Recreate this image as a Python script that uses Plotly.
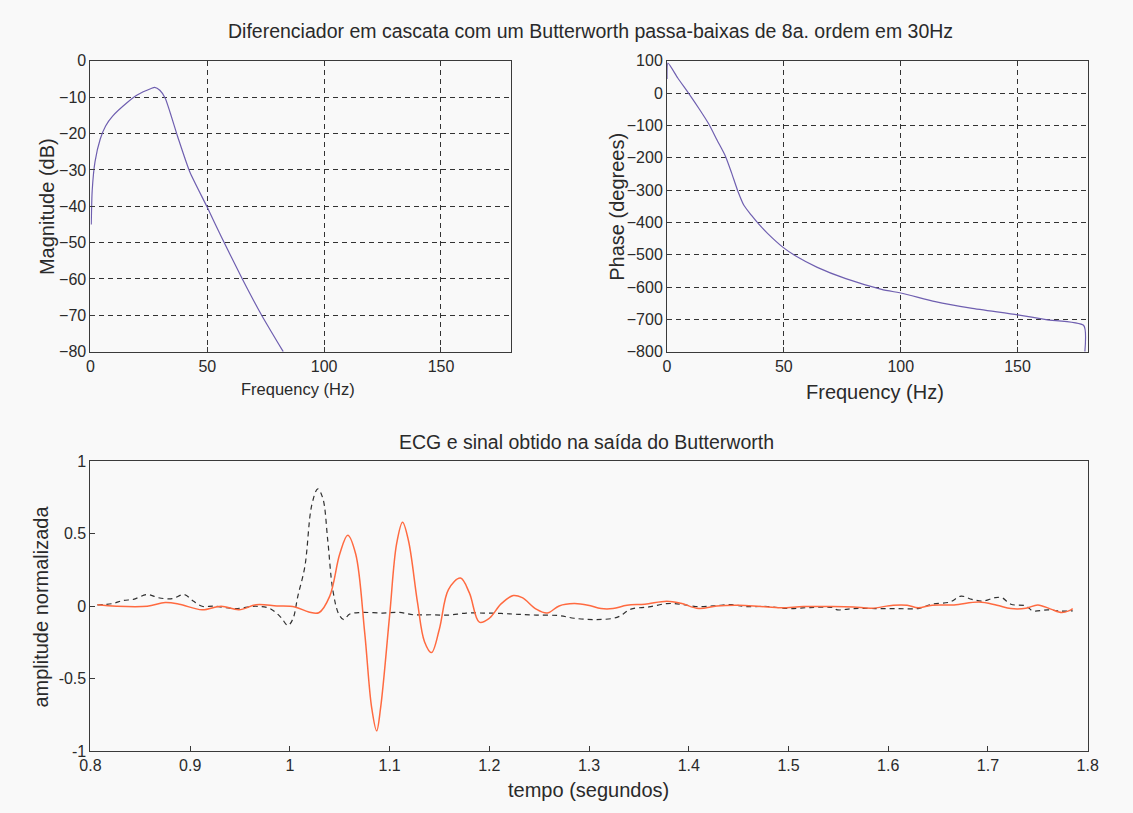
import plotly.graph_objects as go

# ---------------- data ----------------
mag_freq = [0.35, 0.75, 1.95, 4.2, 6.5, 9.5, 15.5, 20.0, 26.0, 27.5, 29.7, 32.0,
            37.2, 42.5, 50.0, 56.0, 65.0, 73.2, 82.5]
mag_db = [-45.0, -35.8, -27.8, -21.5, -17.9, -15.2, -11.6, -9.4, -7.6, -7.3, -8.1, -10.3,
          -20.6, -30.5, -40.3, -48.4, -60.0, -69.9, -80.0]

ph_freq = [0.0, 0.4, 4.6, 9.5, 13.8, 18.0, 21.4, 25.0, 27.6, 30.2, 32.9, 36.0, 39.0,
           42.9, 49.8, 55.1, 64.3, 76.5, 91.8, 101.0, 114.8, 130.0, 150.0, 162.2,
           178.3, 178.8]
ph_deg = [44, 93, 47, -3, -49, -97, -145, -195, -246, -301, -347, -377, -403,
          -433, -478, -504, -539, -574, -607, -620, -645, -665, -686, -701,
          -719, -800]

ecg_t = [0.807, 0.822, 0.833, 0.843, 0.857, 0.868, 0.882, 0.894, 0.903, 0.912, 0.924,
         0.945, 0.966, 0.980, 0.991, 0.998, 1.003, 1.008, 1.015, 1.022, 1.028, 1.033,
         1.038, 1.043, 1.049, 1.054, 1.060, 1.071, 1.093, 1.110, 1.124, 1.142, 1.159,
         1.177, 1.194, 1.212, 1.229, 1.247, 1.270, 1.285, 1.306, 1.328, 1.342, 1.360,
         1.378, 1.392, 1.407, 1.425, 1.443, 1.457, 1.479, 1.500, 1.522, 1.544, 1.549,
         1.565, 1.587, 1.608, 1.630, 1.644, 1.662, 1.673, 1.684, 1.695, 1.707, 1.714,
         1.723, 1.738, 1.745, 1.760, 1.774, 1.785]
ecg_amp = [0.010, 0.018, 0.040, 0.047, 0.081, 0.059, 0.052, 0.081, 0.036, 0.000, 0.000,
           -0.016, 0.000, -0.016, -0.077, -0.133, -0.088, 0.070, 0.273, 0.700, 0.810, 0.746,
           0.453, 0.115, -0.054, -0.092, -0.054, -0.043, -0.047, -0.043, -0.059, -0.059, -0.061,
           -0.047, -0.047, -0.050, -0.056, -0.061, -0.065, -0.083, -0.092, -0.077, -0.020, -0.005,
           0.018, 0.014, -0.002, 0.002, 0.011, -0.002, -0.002, -0.016, -0.009, -0.009, -0.025,
           -0.016, -0.016, -0.016, -0.016, 0.014, 0.029, 0.070, 0.047, 0.036, 0.059, 0.059,
           0.014, 0.002, -0.032, -0.025, -0.034, -0.032]

out_t = [0.807, 0.826, 0.857, 0.875, 0.889, 0.912, 0.931, 0.949, 0.966, 0.987, 1.005,
         1.019, 1.029, 1.040, 1.050, 1.058, 1.066, 1.075, 1.082, 1.087, 1.091, 1.100,
         1.107, 1.113, 1.119, 1.128, 1.135, 1.142, 1.150, 1.159, 1.171, 1.180, 1.190,
         1.200, 1.212, 1.224, 1.233, 1.247, 1.258, 1.270, 1.285, 1.299, 1.312, 1.324,
         1.338, 1.356, 1.378, 1.392, 1.410, 1.428, 1.450, 1.472, 1.493, 1.515, 1.540,
         1.565, 1.583, 1.605, 1.619, 1.630, 1.644, 1.666, 1.691, 1.709, 1.723, 1.738,
         1.750, 1.763, 1.774, 1.781, 1.785]
out_amp = [0.010, 0.000, 0.000, 0.025, 0.014, -0.025, 0.000, -0.025, 0.010, 0.002, -0.005,
           -0.040, -0.045, 0.070, 0.360, 0.490, 0.360, -0.180, -0.700, -0.860, -0.700, -0.065,
           0.430, 0.580, 0.450, 0.025, -0.245, -0.320, -0.155, 0.115, 0.194, 0.092, -0.110,
           -0.083, 0.018, 0.074, 0.059, -0.020, -0.047, 0.002, 0.018, 0.007, -0.016, -0.016,
           0.007, 0.014, 0.034, 0.020, -0.016, 0.002, 0.007, -0.002, -0.011, -0.002, -0.002,
           -0.005, -0.014, 0.007, 0.007, -0.011, 0.007, 0.009, 0.029, 0.007, -0.016, -0.014,
           0.009, -0.020, -0.043, -0.032, -0.016]

mag_ticks = [0, -10, -20, -30, -40, -50, -60, -70, -80]
ph_ticks = [100, 0, -100, -200, -300, -400, -500, -600, -700, -800]
freq_ticks = [0, 50, 100, 150]
t_ticks = [0.8, 0.9, 1.0, 1.1, 1.2, 1.3, 1.4, 1.5, 1.6, 1.7, 1.8]
t_labels = ["0.8", "0.9", "1", "1.1", "1.2", "1.3", "1.4", "1.5", "1.6", "1.7", "1.8"]
a_ticks = [-1, -0.5, 0, 0.5, 1]
a_labels = ["-1", "-0.5", "0", "0.5", "1"]

# ---------------- figure ----------------
W, H = 1133, 813
FONT = "Liberation Sans, Arial, sans-serif"
TXT = "#2a2a2a"
FRAME = "#3a3a3a"
BG = "#f9f9f9"

fig = go.Figure()
fig.add_trace(go.Scatter(x=mag_freq, y=mag_db, mode="lines", xaxis="x", yaxis="y",
                         line=dict(color="#6f5fb0", width=1.2, shape="spline", smoothing=0.6),
                         showlegend=False))
fig.add_trace(go.Scatter(x=ph_freq, y=ph_deg, mode="lines", xaxis="x2", yaxis="y2",
                         line=dict(color="#6f5fb0", width=1.2, shape="spline", smoothing=0.6),
                         showlegend=False))
fig.add_trace(go.Scatter(x=ecg_t, y=ecg_amp, mode="lines", xaxis="x3", yaxis="y3",
                         line=dict(color="#303030", width=1.2, dash="5px,4px", shape="spline"),
                         showlegend=False))
fig.add_trace(go.Scatter(x=out_t, y=out_amp, mode="lines", xaxis="x3", yaxis="y3",
                         line=dict(color="#ff6a40", width=1.5, shape="spline"),
                         showlegend=False))

def px_x(v):
    return v / W

def px_y(v):
    return 1 - v / H

tick_font = dict(family=FONT, size=16, color=TXT)
common = dict(showline=True, linecolor=FRAME, linewidth=1, mirror=True,
              ticks="inside", ticklen=5, tickcolor=FRAME, tickfont=tick_font,
              zeroline=False, fixedrange=True)
grid = dict(showgrid=True, gridcolor="#333333", gridwidth=1, griddash="5px,4px")

fig.update_layout(
    width=W, height=H,
    margin=dict(l=0, r=0, t=0, b=0),
    paper_bgcolor=BG, plot_bgcolor=BG,
    xaxis=dict(domain=[px_x(81), px_x(510)], range=[0, 180], tickvals=freq_ticks,
               anchor="y", **common, **grid),
    yaxis=dict(domain=[px_y(351), px_y(54)], range=[-80, 0], tickvals=mag_ticks,
               anchor="x", **common, **grid),
    xaxis2=dict(domain=[px_x(669), px_x(1098)], range=[0, 180], tickvals=freq_ticks,
                anchor="y2", **common, **grid),
    yaxis2=dict(domain=[px_y(351), px_y(54)], range=[-800, 100], tickvals=ph_ticks,
                anchor="x2", **common, **grid),
    xaxis3=dict(domain=[px_x(81), px_x(1098)], range=[0.8, 1.8], tickvals=t_ticks,
                ticktext=t_labels, anchor="y3", showgrid=False, **common),
    yaxis3=dict(domain=[px_y(759), px_y(463)], range=[-1, 1], tickvals=a_ticks,
                ticktext=a_labels, anchor="x3", showgrid=False, **common),
)

def label(text, x, y, size, angle=0):
    fig.add_annotation(text=text, x=px_x(x), y=px_y(y), xref="paper", yref="paper",
                       showarrow=False, textangle=angle, xanchor="center", yanchor="middle",
                       font=dict(family=FONT, size=size, color=TXT))

label("Diferenciador em cascata com um Butterworth passa-baixas de 8a. ordem em 30Hz",
      591, 24, 19.5)
label("Magnitude (dB)", 36, 203, 20, -90)
label("Frequency (Hz)", 293, 389, 16.5)
label("Phase (degrees)", 618, 203, 20, -90)
label("Frequency (Hz)", 881, 392, 20)
label("ECG e sinal obtido na saída do Butterworth", 587, 443, 19.5)
label("amplitude normalizada", 31, 611, 20, -90)
label("tempo (segundos)", 589, 799, 20)

fig.write_html("out.html",
               post_script="document.body.style.margin='0';document.body.style.overflow='hidden';")
